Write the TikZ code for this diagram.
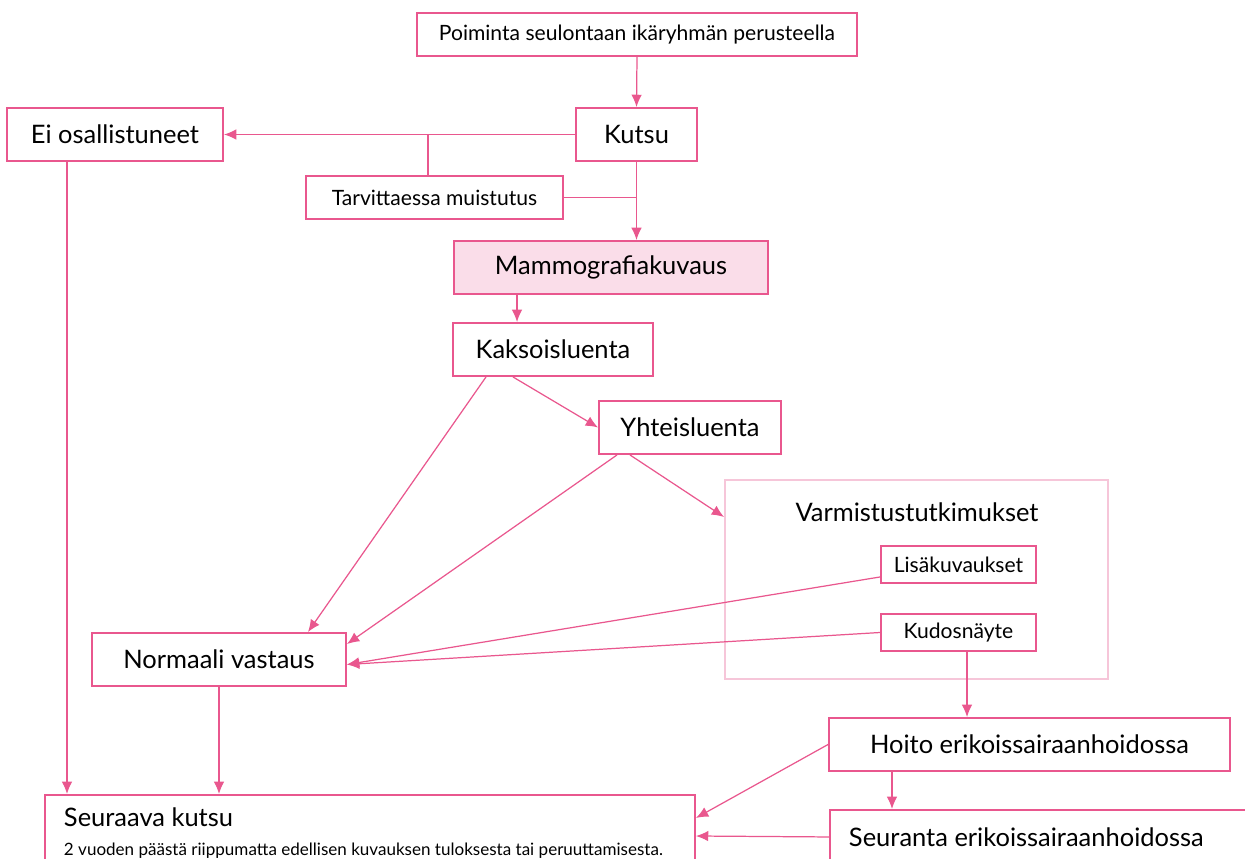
\documentclass[tikz,border=0pt]{standalone}
\usepackage{fontspec}
\setmainfont{Lato}
\usetikzlibrary{arrows.meta}
\definecolor{roosa}{HTML}{E9578E}
\definecolor{vaaleanroosa}{HTML}{FADDE9}
\definecolor{reunaroosa}{HTML}{F6C6D9}

\begin{document}
\begin{tikzpicture}
        % styles
        \tikzstyle{box}=[draw=roosa, line width=1.1pt, fill=white, inner sep=0pt, minimum height=1.06cm, font=\fontsize{14.5}{17}\selectfont]
        \tikzstyle{smallbox}=[box, minimum height=0.86cm, font=\fontsize{12}{14}\selectfont]
        \tikzstyle{arrow}=[-{Latex[length=7pt,width=6pt]}, roosa, line width=0.7pt]
        \tikzstyle{line}=[-, roosa, line width=0.7pt]

        \useasboundingbox (0,0) rectangle (24.9,-17.18);

        % boxes
        \node[smallbox, minimum width=8.8cm] (poiminta) at (12.74,-0.69) {Poiminta seulontaan ikäryhmän perusteella};
        \node[box, minimum width=2.42cm] (kutsu) at (12.73,-2.69) {Kutsu};
        \node[box, minimum width=4.32cm] (ei) at (2.30,-2.69) {Ei osallistuneet};
        \node[smallbox, minimum width=5.14cm] (tarv) at (8.69,-3.95) {Tarvittaessa muistutus};
        \node[box, fill=vaaleanroosa, minimum width=6.28cm] (mammo) at (12.22,-5.35) {Mammografiakuvaus};
        \node[box, minimum width=4.0cm] (kaks) at (11.06,-6.99) {Kaksoisluenta};
        \node[box, minimum width=3.64cm] (yht) at (13.80,-8.55) {Yhteisluenta};
        \node[draw=reunaroosa, line width=1.1pt, minimum width=7.66cm, minimum height=3.98cm] (varm) at (18.33,-11.59) {};
        \node[font=\fontsize{14.5}{17}\selectfont] (varmotsikko) at (18.34,-10.24) {Varmistustutkimukset};
        \node[smallbox, minimum width=3.1cm, minimum height=0.74cm] (lisa) at (19.17,-11.29) {Lisäkuvaukset};
        \node[smallbox, minimum width=3.1cm, minimum height=0.74cm] (kudos) at (19.17,-12.65) {Kudosnäyte};
        \node[box, minimum width=5.08cm] (norm) at (4.38,-13.19) {Normaali vastaus};
        \node[box, minimum width=8.02cm] (hoito) at (20.59,-14.89) {Hoito erikoissairaanhoidossa};
        \node[box, anchor=north west, text width=8.4cm, align=left, inner xsep=0.38cm, minimum height=1.08cm] (seuranta) at (16.58,-16.18) {\spaceskip=0pt\relax Seuranta erikoissairaanhoidossa};
        \node[box, anchor=north west, text width=12.24cm, align=left, inner xsep=0.38cm, inner ysep=0.25cm, minimum height=0pt, text depth=0.5cm] (seuraava) at (0.88,-15.88) {\spaceskip=0pt\relax Seuraava kutsu\\[-0.5pt]\mbox{\fontsize{9.7}{11}\selectfont\spaceskip=0pt\relax 2 vuoden päästä riippumatta edellisen kuvauksen tuloksesta tai peruuttamisesta.}};

        % arrows
        \draw[arrow] (poiminta.south) -- (kutsu.north);
        \draw[arrow] (kutsu.west) -- (ei.east);
        \draw[line] ([xshift=-1.3mm]tarv.north) -- ([xshift=-1.3mm]tarv.north |- kutsu.west);
        \draw[line] (tarv.east) -- (tarv.east -| kutsu.south);
        \draw[arrow] (kutsu.south) -- (kutsu.south |- mammo.north);
        \draw[arrow] ([xshift=-7.2mm]kaks.north |- mammo.south) -- ([xshift=-7.2mm]kaks.north);
        \draw[arrow] ([xshift=-8mm]kaks.south) -- (yht.west);
        \draw[arrow] ([xshift=-13.4mm]kaks.south) -- ([xshift=17.8mm]norm.north);
        \draw[arrow] ([xshift=-14.6mm]yht.south) -- ([yshift=-2.4mm]norm.north east);
        \draw[arrow] ([xshift=-12mm]yht.south) -- ([yshift=12.5mm]varm.west);
        \draw[arrow] ([yshift=1.4mm]lisa.south west) -- ([yshift=-1mm]norm.east);
        \draw[arrow] (kudos.west) -- ([yshift=-1mm]norm.east);
        \draw[arrow] ([xshift=1.7mm]kudos.south) -- ([xshift=1.7mm]kudos.south |- hoito.north);
        \draw[arrow] (hoito.west) -- ([yshift=-4.8mm]seuraava.north east);
        \draw[arrow] ([xshift=-27.5mm]hoito.south) -- ([xshift=-27.5mm]hoito.south |- seuranta.north);
        \draw[arrow] (seuranta.west) -- ([yshift=-8.4mm]seuraava.north east);
        \draw[arrow] ([xshift=-9.6mm]ei.south) -- ([xshift=-9.6mm]ei.south |- seuraava.north);
        \draw[arrow] (norm.south) -- (norm.south |- seuraava.north);
    \end{tikzpicture}
\end{document}
